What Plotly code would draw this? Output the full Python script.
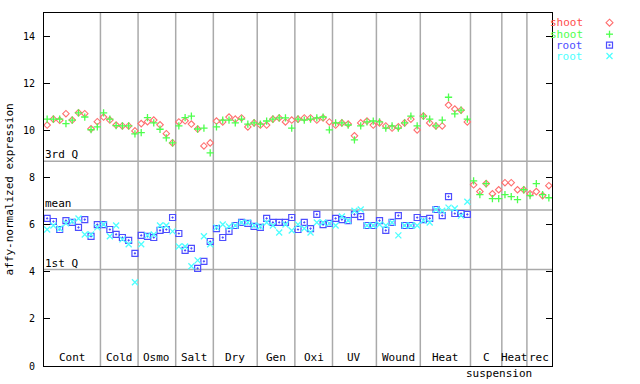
import plotly.graph_objects as go

# ---------------- data ----------------
groups = ["Cont", "Cold", "Osmo", "Salt", "Dry", "Gen", "Oxi", "UV", "Wound", "Heat", "C", "Heat", "rec"]
group_sizes = [9, 6, 6, 6, 7, 6, 6, 7, 7, 8, 5, 4, 4]

shoot_a = [10.24, 10.49, 10.44, 10.72, 10.45, 10.76, 10.72, 10.08, 10.38, 10.58, 10.45, 10.24, 10.20, 10.20, 9.99,
           10.30, 10.38, 10.45, 10.25, 9.87, 9.48, 10.37, 10.42,
           10.28, 10.07, 9.35, 9.48, 10.41, 10.37, 10.58, 10.49, 10.54, 10.16, 10.33, 10.24, 10.24, 10.49, 10.54,
           10.37, 10.45, 10.49, 10.54, 10.54, 10.45, 10.54, 10.37,
           10.24, 10.33, 10.28, 9.78, 10.33, 10.41, 10.24, 10.33, 10.20, 10.11, 10.16, 10.33, 10.49, 10.03, 10.62,
           10.33, 10.20, 10.20, 11.09, 10.92, 10.87, 10.37,
           7.70, 7.41, 7.75, 7.32, 7.49, 7.79, 7.79, 7.49, 7.49, 7.32, 7.41, 7.24, 7.66]

shoot_b = [10.49, 10.49, 10.49, 10.30, 10.45, 10.76, 10.58, 10.04, 10.16, 10.76, 10.49, 10.21, 10.20, 10.20, 9.86,
           9.92, 10.55, 10.33, 10.06, 9.69, 9.48, 10.20, 10.55,
           10.62, 10.07, 10.11, 9.06, 10.16, 10.45, 10.45, 10.33, 10.49, 10.28, 10.33, 10.28, 10.41, 10.49, 10.54,
           10.54, 10.11, 10.49, 10.45, 10.49, 10.54, 10.58, 10.03,
           10.33, 10.33, 10.24, 9.61, 10.20, 10.37, 10.41, 10.37, 10.11, 10.20, 10.11, 10.33, 10.62, 10.20, 10.62,
           10.49, 10.20, 10.45, 11.42, 10.71, 10.87, 10.49,
           7.87, 7.28, 7.75, 7.11, 7.11, 7.28, 7.20, 7.07, 7.49, 7.24, 7.75, 7.28, 7.15]

root_a = [6.27, 6.14, 5.80, 6.18, 6.10, 5.89, 6.22, 5.51, 6.01, 6.01, 5.80, 5.59, 5.46, 5.34, 4.79,
          5.55, 5.51, 5.46, 5.76, 5.80, 6.31, 5.63, 4.91,
          5.00, 4.15, 4.45, 5.29, 5.84, 5.46, 5.72, 5.97, 6.10, 6.06, 5.93, 5.89, 6.27, 6.10, 6.10,
          6.10, 6.31, 5.80, 6.10, 5.84, 6.44, 6.01, 6.06,
          6.27, 6.22, 6.18, 6.44, 6.35, 5.97, 5.97, 6.18, 5.76, 6.10, 6.39, 5.97, 5.97, 6.31, 6.22,
          6.27, 6.65, 6.39, 7.20, 6.48, 6.48, 6.44,
          None, None, None, None, None, None, None, None, None, None, None, None, None]

root_b = [5.80, 5.97, 5.84, 6.06, 6.14, 6.27, 5.59, 5.59, 5.89, 6.01, 5.51, 5.97, 5.38, 5.17, 3.56,
          5.17, 5.55, 5.59, 5.97, 5.97, 5.72, 5.08, 5.08,
          4.24, 4.49, 5.51, 5.17, 5.89, 6.01, 5.93, 5.97, 6.10, 6.10, 5.97, 5.93, 6.10, 5.97, 5.67,
          6.01, 5.76, 6.01, 5.84, 5.67, 6.10, 6.10, 6.06,
          5.97, 6.35, 6.18, 6.60, 6.65, 5.97, 5.97, 6.01, 5.97, 6.10, 5.55, 5.97, 5.97, 5.97, 6.18,
          6.10, 6.65, 6.60, 6.73, 6.69, 6.39, 6.98,
          None, None, None, None, None, None, None, None, None, None, None, None, None]

stat_names = ["3rd Q", "mean", "1st Q"]
stat_values = [8.70, 6.63, 4.10]

y_ticks = [0, 2, 4, 6, 8, 10, 12, 14]

series_names = ["shoot", "shoot", "root", "root"]
series_colors = ["#ff4d4d", "#4dff4d", "#4d4dff", "#4dffff"]
marker_colors = ["#ff6f6f", "#4dff4d", "#4d4dff", "#4dffff"]

# ---------------- figure ----------------
n = len(shoot_a)
xs = list(range(1, n + 1))
MONO = "DejaVu Sans Mono"
GRID = "#aaaaaa"

fig = go.Figure()

styles = [
    dict(symbol="diamond-open", size=5.0, lw=1.1),
    dict(symbol="cross-thin-open", size=5.2, lw=1.3),
    dict(symbol="square-open-dot", size=6, lw=1.2),
    dict(symbol="x-thin-open", size=6, lw=1.3),
]
for vals, name, col, st in zip([shoot_a, shoot_b, root_a, root_b], series_names, marker_colors, styles):
    fig.add_trace(go.Scatter(
        x=xs, y=vals, mode="markers", name=name, showlegend=False, hoverinfo="skip",
        marker=dict(symbol=st["symbol"], size=st["size"], color=col,
                    line=dict(color=col, width=st["lw"])),
    ))

shapes = []
annotations = []

# group separators and labels
pos = 0.5
for g, size in zip(groups, group_sizes):
    start = pos
    pos += size
    if pos < n + 0.5 - 1e-9:
        shapes.append(dict(type="line", xref="x", yref="paper", x0=pos, x1=pos, y0=0, y1=1,
                           line=dict(color=GRID, width=1.5), layer="below"))
    annotations.append(dict(x=(start + pos) / 2, y=0, xref="x", yref="y", text=g, showarrow=False,
                            xanchor="center", yanchor="bottom", font=dict(family=MONO, size=11, color="black")))
annotations.append(dict(x=73.0, y=0, xref="x", yref="y", text="suspension", showarrow=False,
                        xanchor="center", yanchor="top", yshift=1, height=13,
                        font=dict(family=MONO, size=11, color="black")))

# statistic lines
for nm, v in zip(stat_names, stat_values):
    shapes.append(dict(type="line", xref="paper", yref="y", x0=0, x1=1, y0=v, y1=v,
                       line=dict(color=GRID, width=1.5), layer="below"))
    annotations.append(dict(x=0, y=v, xref="paper", yref="y", text=nm, showarrow=False,
                            xanchor="left", yanchor="bottom", xshift=-1, yshift=-2,
                            font=dict(family=MONO, size=11, color="black")))

# y-axis title
annotations.append(dict(x=-0.067, y=0.5, xref="paper", yref="paper", text="affy-normalized expression",
                        textangle=-90, showarrow=False, xanchor="center", yanchor="middle",
                        font=dict(family=MONO, size=11, color="black")))

# legend (text right-aligned, symbol to the right)
leg_y = [0.9725, 0.940, 0.909, 0.878]
sym_x = 1.1132
for nm, col, ly in zip(series_names, series_colors, leg_y):
    annotations.append(dict(x=1.065, y=ly, xref="paper", yref="paper", text=nm, showarrow=False,
                            xanchor="right", yanchor="middle", height=11,
                            font=dict(family=MONO, size=11, color=col)))

common = dict(xref="paper", yref="paper", xsizemode="pixel", ysizemode="pixel", xanchor=sym_x)
# diamond
shapes.append(dict(type="path", path="M0,3.5 L3.5,0 L0,-3.5 L-3.5,0 Z", yanchor=leg_y[0],
                   line=dict(color=marker_colors[0], width=1.1), **common))
# cross
shapes.append(dict(type="line", x0=-3.5, x1=3.5, y0=0, y1=0, yanchor=leg_y[1],
                   line=dict(color=marker_colors[1], width=1.3), **common))
shapes.append(dict(type="line", x0=0, x1=0, y0=-3.5, y1=3.5, yanchor=leg_y[1],
                   line=dict(color=marker_colors[1], width=1.3), **common))
# square with dot
shapes.append(dict(type="rect", x0=-3, x1=3, y0=-3, y1=3, yanchor=leg_y[2],
                   line=dict(color=marker_colors[2], width=1.2), **common))
shapes.append(dict(type="rect", x0=-0.7, x1=0.7, y0=-0.7, y1=0.7, yanchor=leg_y[2],
                   fillcolor=marker_colors[2], line=dict(color=marker_colors[2], width=0.5), **common))
# x
shapes.append(dict(type="line", x0=-3, x1=3, y0=-3, y1=3, yanchor=leg_y[3],
                   line=dict(color=marker_colors[3], width=1.3), **common))
shapes.append(dict(type="line", x0=-3, x1=3, y0=3, y1=-3, yanchor=leg_y[3],
                   line=dict(color=marker_colors[3], width=1.3), **common))

fig.update_layout(
    width=640, height=384,
    margin=dict(l=44, r=88, t=13, b=15, pad=0),
    paper_bgcolor="white", plot_bgcolor="white",
    showlegend=False, hovermode=False,
    shapes=shapes, annotations=annotations,
    xaxis=dict(range=[0.5, n + 0.5], showticklabels=False, showgrid=False, zeroline=False,
               showline=True, linecolor="black", linewidth=1, mirror=True, ticks=""),
    yaxis=dict(range=[0, 15], tickvals=y_ticks, ticks="inside", ticklen=6, tickcolor="black",
               showgrid=False, zeroline=False, showline=True, linecolor="black", linewidth=1,
               mirror="ticks", ticklabelstandoff=6,
               tickfont=dict(family=MONO, size=10, color="black")),
)

# remove the browser's default 8px page margin so the 640x384 figure fills the window exactly
fig.write_html("out.html", config={"displayModeBar": False, "staticPlot": True},
               post_script="document.body.style.margin='0';document.body.style.overflow='hidden';")
